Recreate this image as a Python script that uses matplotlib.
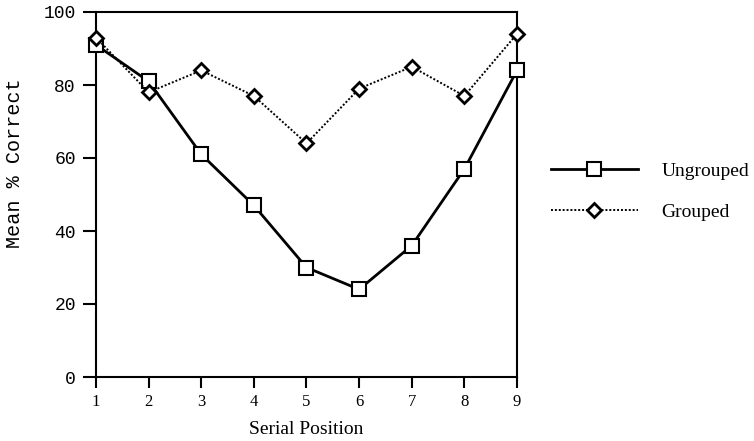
import matplotlib
matplotlib.use("Agg")
import matplotlib.pyplot as plt

positions = [1, 2, 3, 4, 5, 6, 7, 8, 9]
ungrouped = [91, 81, 61, 47, 30, 24, 36, 57, 84]
grouped = [93, 78, 84, 77, 64, 79, 85, 77, 94]
yticks = [0, 20, 40, 60, 80, 100]

fig = plt.figure(figsize=(7.54, 4.41), dpi=100)
ax = fig.add_axes([96/754, 1-377/441, 421/754, 365/441])

ax.plot(positions, ungrouped, color="black", lw=2.0, marker="s", markersize=10,
        markerfacecolor="white", markeredgecolor="black", markeredgewidth=1.5,
        label="Ungrouped", zorder=3, clip_on=False)
ax.plot(positions, grouped, color="black", lw=1.4, linestyle=(0, (1, 1)), marker="D",
        markersize=7, markerfacecolor="white", markeredgecolor="black",
        markeredgewidth=2.0, label="Grouped", zorder=4, clip_on=False)

ax.set_xlim(1, 9)
ax.set_ylim(0, 100)
ax.set_xticks(positions)
ax.set_yticks(yticks)
ax.set_xticklabels([str(p) for p in positions], fontfamily="Liberation Serif", fontsize=12)
ax.set_yticklabels([str(t) for t in yticks], fontfamily="Liberation Mono", fontsize=13)
ax.tick_params(axis="both", direction="out", width=1.5, colors="black")
ax.tick_params(axis="x", length=8, pad=4)
ax.tick_params(axis="y", length=9.5, pad=5)
for s in ax.spines.values():
    s.set_linewidth(1.5)

ax.set_xlabel("Serial Position", fontfamily="Liberation Serif", fontsize=14, labelpad=8)
fig.text(15/754, 1-163/441, "Mean % Correct", rotation=90, ha="center", va="center",
         fontfamily="Liberation Mono", fontsize=14.5)

leg = fig.legend(loc="upper left", bbox_to_anchor=(533/754, 1-145/441), frameon=False,
                 handlelength=4.5, labelspacing=1.2, handletextpad=1.2,
                 prop={"family": "Liberation Serif", "size": 14})

fig.savefig("out.png", dpi=100)
